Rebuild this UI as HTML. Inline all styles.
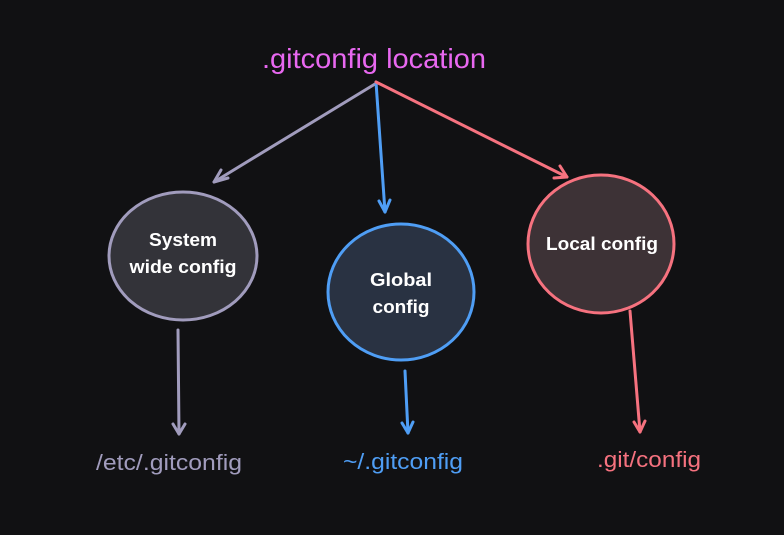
<!DOCTYPE html>
<html><head><style>
html,body{margin:0;padding:0;background:#111113;}
svg{display:block}
text{font-family:"Liberation Sans",sans-serif;}
</style></head><body>
<svg width="784" height="535" viewBox="0 0 784 535" xmlns="http://www.w3.org/2000/svg">
<rect width="784" height="535" fill="#111113"/>
<text x="374" y="68" font-size="28" fill="#e868f0" text-anchor="middle" textLength="224" lengthAdjust="spacingAndGlyphs">.gitconfig location</text>
<g fill="none" stroke-width="3" stroke-linecap="round" stroke-linejoin="round">
<g stroke="#a19cbd"><path d="M375 84 L214 182"/><path d="M228 178 L214 182 L221 170"/></g>
<g stroke="#4f9ef5"><path d="M376 82 L385 212"/><path d="M379 201 L385 212 L390 200"/></g>
<g stroke="#f6727f"><path d="M376 82 L567 177"/><path d="M554 178 L567 177 L560 166"/></g>
<g stroke="#a19cbd"><path d="M178 330 L179 434"/><path d="M173 424 L179 434 L185 424"/></g>
<g stroke="#4f9ef5"><path d="M405 371 L408 433"/><path d="M402 423 L408 433 L413 422"/></g>
<g stroke="#f6727f"><path d="M630 311 L640 432"/><path d="M634 422 L640 432 L645 421"/></g>
</g>
<ellipse cx="183" cy="256" rx="74" ry="64" fill="#333339" stroke="#a19cbd" stroke-width="3"/>
<ellipse cx="401" cy="292" rx="73" ry="68" fill="#293242" stroke="#4f9ef5" stroke-width="3"/>
<ellipse cx="601" cy="244" rx="73" ry="69" fill="#3d3236" stroke="#f6727f" stroke-width="3"/>
<g font-size="18" font-weight="bold" fill="#fff" text-anchor="middle">
<text x="183" y="246" textLength="68" lengthAdjust="spacingAndGlyphs">System</text><text x="183" y="273" textLength="107" lengthAdjust="spacingAndGlyphs">wide config</text>
<text x="401" y="286" textLength="62" lengthAdjust="spacingAndGlyphs">Global</text><text x="401" y="313" textLength="57" lengthAdjust="spacingAndGlyphs">config</text>
<text x="602" y="250" textLength="112" lengthAdjust="spacingAndGlyphs">Local config</text>
</g>
<g font-size="22" text-anchor="middle">
<text x="169" y="470" fill="#a19cbd" textLength="146" lengthAdjust="spacingAndGlyphs">/etc/.gitconfig</text>
<text x="403" y="469" fill="#4f9ef5" textLength="120" lengthAdjust="spacingAndGlyphs">~/.gitconfig</text>
<text x="649" y="467" fill="#f6727f" textLength="104" lengthAdjust="spacingAndGlyphs">.git/config</text>
</g>
</svg>
</body></html>
